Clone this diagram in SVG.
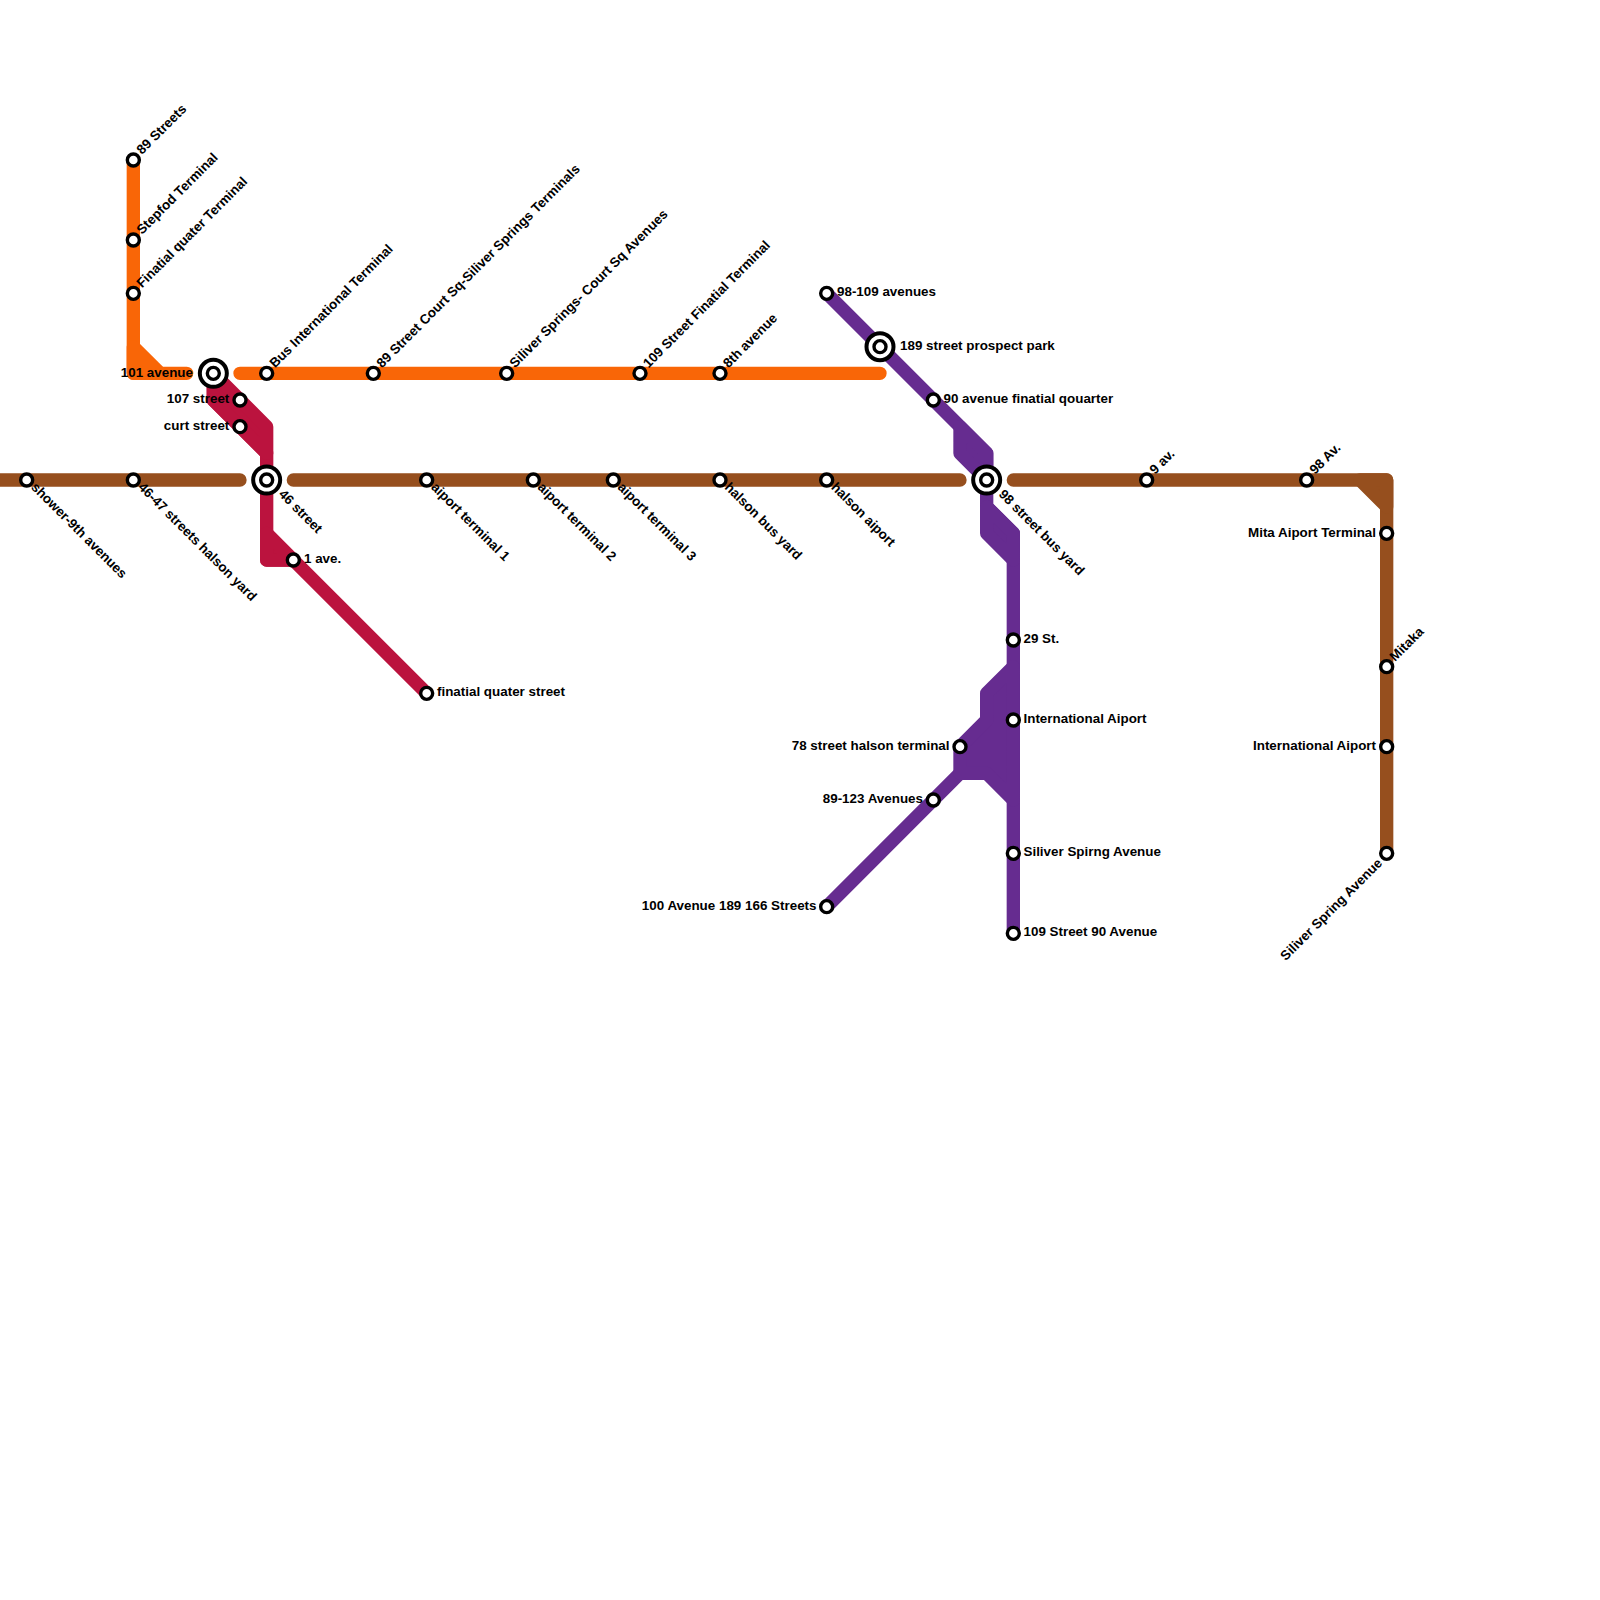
<svg xmlns="http://www.w3.org/2000/svg" width="1600" height="1600" viewBox="0 0 1600 1600">
<style>
.l{fill:none;stroke-width:13.33;stroke-linecap:round;stroke-linejoin:round}
.f{stroke-width:13.33;stroke-linejoin:round}
.o{stroke:#f96607}.of{fill:#f96607}
.r{stroke:#bb133e}.rf{fill:#bb133e}
.p{stroke:#662c90}.pf{fill:#662c90}
.b{stroke:#964f1e}.bf{fill:#964f1e}
.s{fill:#fff;stroke:#000;stroke-width:3.4}
.x{fill:#fff;stroke:#000;stroke-width:4}
text{font-family:"Liberation Sans",Arial,sans-serif;font-weight:700;font-size:13.4px;fill:#000}
.e{text-anchor:end}
</style>
<rect width="1600" height="1600" fill="#fff"/>
<g id="connectors">
<path class="l b" d="M-10 480H240M293.33 480H960M1013.33 480H1386.67V853.33"/>
<path class="f b bf" d="M1360 480H1386.67V506.67Z"/>
<path class="l o" d="M133.33 160V373.33H186.67M240 373.33H880"/>
<path class="f o of" d="M133.33 346.67L160 373.33H133.33Z"/>
<path class="l r" d="M213.33 373.33V400L266.67 453.33V560H293.33L426.67 693.33"/>
<path class="f r rf" d="M213.33 373.33L266.67 426.67V453.33L213.33 400Z"/>
<path class="f r rf" d="M266.67 533.33L293.33 560H266.67Z"/>
<path class="l p" d="M826.67 293.33L986.67 453.33V506.67L1013.33 533.33V933.33M826.67 906.67L960 773.33"/>
<path class="f p pf" d="M960 426.67L986.67 453.33V480L960 453.33Z"/>
<path class="f p pf" d="M986.67 506.67L1013.33 533.33V560L986.67 533.33Z"/>
<path class="f p pf" d="M1013.33 666.67L986.67 693.33V720L960 746.67V773.33H986.67L1013.33 800Z"/>
</g>
<g id="n1"><circle class="s" cx="26.67" cy="480" r="6"/><text transform="translate(30.5 488) rotate(45)">shower-9th avenues</text></g>
<g id="n2"><circle class="s" cx="133.33" cy="480" r="6"/><text transform="translate(137.5 488) rotate(45)">46-47 streets halson yard</text></g>
<g id="n3"><circle class="x" cx="266.67" cy="480" r="13.5"/><circle class="s" cx="266.67" cy="480" r="6"/><text transform="translate(278 495) rotate(45)">46 street</text></g>
<g id="n4"><circle class="s" cx="426.67" cy="480" r="6"/><text transform="translate(430.5 488) rotate(45)">aiport terminal 1</text></g>
<g id="n5"><circle class="s" cx="533.33" cy="480" r="6"/><text transform="translate(537 488) rotate(45)">aiport terminal 2</text></g>
<g id="n6"><circle class="s" cx="613.33" cy="480" r="6"/><text transform="translate(617 488) rotate(45)">aiport terminal 3</text></g>
<g id="n7"><circle class="s" cx="720" cy="480" r="6"/><text transform="translate(724 488) rotate(45)">halson bus yard</text></g>
<g id="n8"><circle class="s" cx="826.67" cy="480" r="6"/><text transform="translate(830.5 488) rotate(45)">halson aiport</text></g>
<g id="n9"><circle class="x" cx="986.67" cy="480" r="13.5"/><circle class="s" cx="986.67" cy="480" r="6"/><text transform="translate(998 495) rotate(45)">98 street bus yard</text></g>
<g id="n10"><circle class="s" cx="1146.67" cy="480" r="6"/><text transform="translate(1155 475) rotate(-45)">9 av.</text></g>
<g id="n11"><circle class="s" cx="1306.67" cy="480" r="6"/><text transform="translate(1315 475) rotate(-45)">98 Av.</text></g>
<g id="n12"><circle class="s" cx="1386.67" cy="533.33" r="6"/><text class="e" x="1376" y="536.5">Mita Aiport Terminal</text></g>
<g id="n13"><circle class="s" cx="1386.67" cy="666.67" r="6"/><text transform="translate(1395 662) rotate(-45)">Mitaka</text></g>
<g id="n14"><circle class="s" cx="1386.67" cy="746.67" r="6"/><text class="e" x="1376" y="749.5">International Aiport</text></g>
<g id="n15"><circle class="s" cx="1386.67" cy="853.33" r="6"/><text class="e" transform="translate(1383 864) rotate(-45)">Siliver Spring Avenue</text></g>
<g id="n16"><circle class="s" cx="133.33" cy="160" r="6"/><text transform="translate(142 155) rotate(-45)">89 Streets</text></g>
<g id="n17"><circle class="s" cx="133.33" cy="240" r="6"/><text transform="translate(142 235) rotate(-45)">Stepfod Terminal</text></g>
<g id="n18"><circle class="s" cx="133.33" cy="293.33" r="6"/><text transform="translate(142 288.5) rotate(-45)">Finatial quater Terminal</text></g>
<g id="n19"><circle class="x" cx="213.33" cy="373.33" r="13.5"/><circle class="s" cx="213.33" cy="373.33" r="6"/><text class="e" x="193" y="376.5">101 avenue</text></g>
<g id="n20"><circle class="s" cx="266.67" cy="373.33" r="6"/><text transform="translate(275 368.5) rotate(-45)">Bus International Terminal</text></g>
<g id="n21"><circle class="s" cx="373.33" cy="373.33" r="6"/><text transform="translate(382 368.5) rotate(-45)">89 Street Court Sq-Siliver Springs Terminals</text></g>
<g id="n22"><circle class="s" cx="506.67" cy="373.33" r="6"/><text transform="translate(515 368.5) rotate(-45)">Siliver Springs- Court Sq Avenues</text></g>
<g id="n23"><circle class="s" cx="640" cy="373.33" r="6"/><text transform="translate(648.5 368.5) rotate(-45)">109 Street Finatial Terminal</text></g>
<g id="n24"><circle class="s" cx="720" cy="373.33" r="6"/><text transform="translate(728.5 368.5) rotate(-45)">8th avenue</text></g>
<g id="n25"><circle class="s" cx="240" cy="400" r="6"/><text class="e" x="229.3" y="403.2">107 street</text></g>
<g id="n26"><circle class="s" cx="240" cy="426.67" r="6"/><text class="e" x="229.3" y="429.8">curt street</text></g>
<g id="n27"><circle class="s" cx="293.33" cy="560" r="6"/><text x="304" y="563">1 ave.</text></g>
<g id="n28"><circle class="s" cx="426.67" cy="693.33" r="6"/><text x="437" y="696.2">finatial quater street</text></g>
<g id="n29"><circle class="s" cx="826.67" cy="293.33" r="6"/><text x="837" y="296.2">98-109 avenues</text></g>
<g id="n30"><circle class="x" cx="880" cy="346.67" r="13.5"/><circle class="s" cx="880" cy="346.67" r="6"/><text x="900" y="349.6">189 street prospect park</text></g>
<g id="n31"><circle class="s" cx="933.33" cy="400" r="6"/><text x="943.5" y="403">90 avenue finatial qouarter</text></g>
<g id="n32"><circle class="s" cx="1013.33" cy="640" r="6"/><text x="1023.5" y="643">29 St.</text></g>
<g id="n33"><circle class="s" cx="1013.33" cy="720" r="6"/><text x="1023.5" y="723">International Aiport</text></g>
<g id="n34"><circle class="s" cx="960" cy="746.67" r="6"/><text class="e" x="949.5" y="749.6">78 street halson terminal</text></g>
<g id="n35"><circle class="s" cx="933.33" cy="800" r="6"/><text class="e" x="923" y="803">89-123 Avenues</text></g>
<g id="n36"><circle class="s" cx="1013.33" cy="853.33" r="6"/><text x="1023.5" y="856.3">Siliver Spirng Avenue</text></g>
<g id="n37"><circle class="s" cx="1013.33" cy="933.33" r="6"/><text x="1023.5" y="936.3">109 Street 90 Avenue</text></g>
<g id="n38"><circle class="s" cx="826.67" cy="906.67" r="6"/><text class="e" x="816.5" y="909.6">100 Avenue 189 166 Streets</text></g>
</svg>
